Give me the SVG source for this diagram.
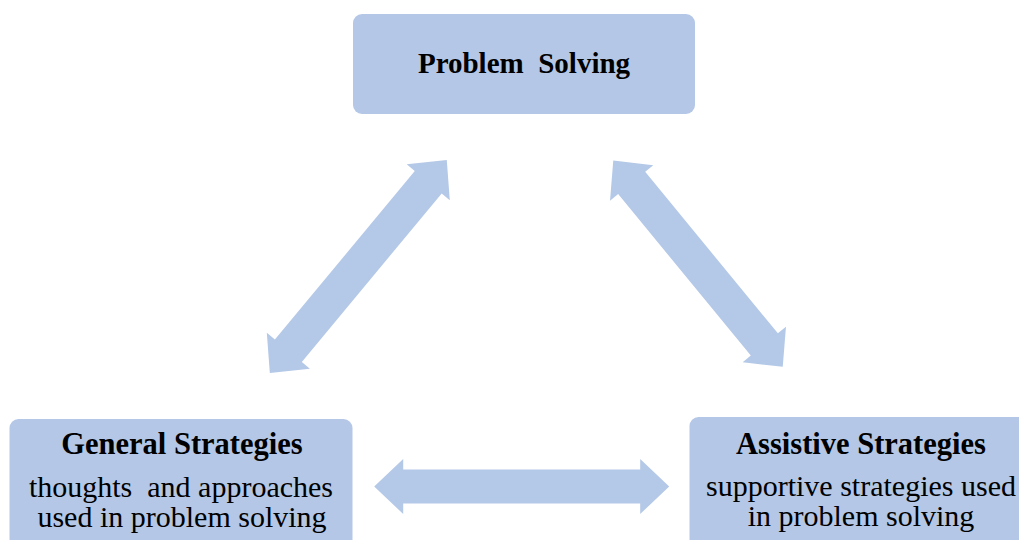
<svg xmlns="http://www.w3.org/2000/svg" width="1019" height="540" viewBox="0 0 1019 540">
<style>
  .box { fill: #B4C7E7; }
  .arrow { fill: #B4C8E7; }
  .title { font-weight: bold; font-size: 30.5px; fill: #000; text-anchor: middle; }
  .top { font-size: 29px; }
  .desc { font-size: 30px; fill: #000; text-anchor: middle; }
</style>
<rect width="1019" height="540" fill="#FFFFFF"/>
<g id="connectors">
  <path class="arrow" transform="translate(358.3,266.5) rotate(-50.3)" d="M -138.5,0 L -109.5,-28 L -109.5,-17.5 L 109.5,-17.5 L 109.5,-28 L 138.5,0 L 109.5,28 L 109.5,17.5 L -109.5,17.5 L -109.5,28 Z"/>
  <path class="arrow" transform="translate(698,263.7) rotate(50.6)" d="M -133.5,0 L -104.5,-28 L -104.5,-17.5 L 104.5,-17.5 L 104.5,-28 L 133.5,0 L 104.5,28 L 104.5,17.5 L -104.5,17.5 L -104.5,28 Z"/>
  <path class="arrow" transform="translate(521.7,486.5)" d="M -147.5,0 L -118.5,-27.5 L -118.5,-17 L 118.5,-17 L 118.5,-27.5 L 147.5,0 L 118.5,27.5 L 118.5,17 L -118.5,17 L -118.5,27.5 Z"/>
</g>
<g id="problem-solving" font-family="'Liberation Serif', 'DejaVu Serif', serif">
  <rect class="box" x="353" y="14" width="342" height="100" rx="9"/>
  <text class="title top" x="524" y="73" xml:space="preserve">Problem  Solving</text>
</g>
<g id="general-strategies" font-family="'Liberation Serif', 'DejaVu Serif', serif">
  <rect class="box" x="9.5" y="419" width="343" height="140" rx="9"/>
  <text class="title" x="182" y="454">General Strategies</text>
  <text class="desc" x="181" y="497" xml:space="preserve">thoughts  and approaches</text>
  <text class="desc" x="182" y="527">used in problem solving</text>
</g>
<g id="assistive-strategies" font-family="'Liberation Serif', 'DejaVu Serif', serif">
  <rect class="box" x="689.5" y="417" width="343" height="140" rx="9"/>
  <text class="title" x="861" y="454">Assistive Strategies</text>
  <text class="desc" x="861" y="496">supportive strategies used</text>
  <text class="desc" x="861" y="526">in problem solving</text>
</g>
</svg>
